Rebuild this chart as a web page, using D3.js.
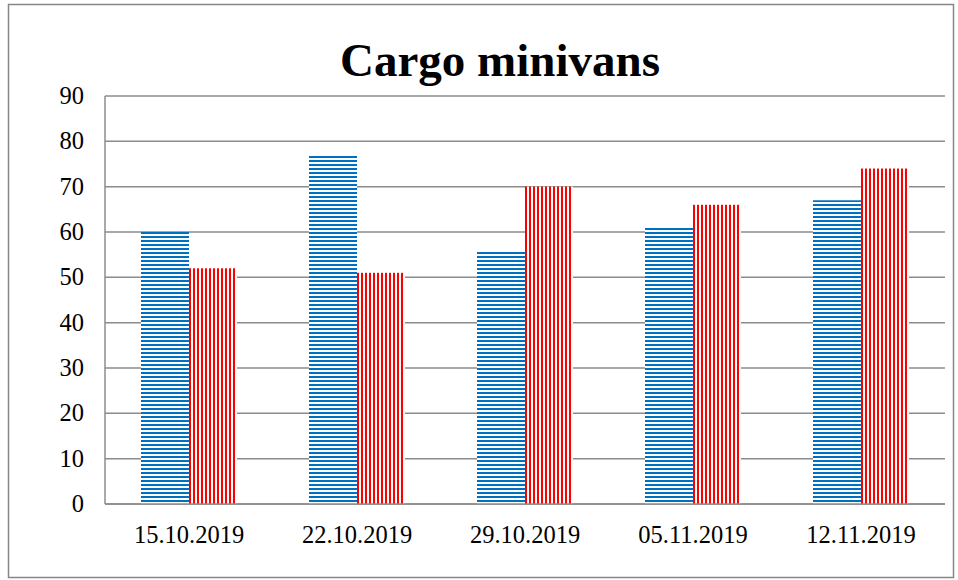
<!DOCTYPE html>
<html>
<head>
<meta charset="utf-8">
<script src="https://cdn.jsdelivr.net/npm/d3@7"></script>
<style>
  body { margin: 0; background: #fff; }
  text { font-family: "Liberation Serif", "Times New Roman", serif; }
</style>
</head>
<body>
<svg id="chart" width="958" height="580"></svg>
<script>
const dates = ["15.10.2019", "22.10.2019", "29.10.2019", "05.11.2019", "12.11.2019"];
const seriesA = [60, 77, 56, 61, 67];
const seriesB = [52, 51, 70, 66, 74];
const yTicks = [0, 10, 20, 30, 40, 50, 60, 70, 80, 90];

const svg = d3.select("#chart");
const plotL = 105, plotR = 945, plotT = 96, plotB = 504;

// patterns for the bars
const defs = svg.append("defs");
const pa = defs.append("pattern").attr("id", "hstripe")
  .attr("patternUnits", "userSpaceOnUse").attr("width", 4).attr("height", 4);
pa.append("rect").attr("width", 4).attr("height", 4).attr("fill", "#fff");
pa.append("rect").attr("width", 4).attr("height", 2).attr("fill", "#0070c0");
const pb = defs.append("pattern").attr("id", "vstripe")
  .attr("patternUnits", "userSpaceOnUse").attr("width", 4).attr("height", 4);
pb.append("rect").attr("width", 4).attr("height", 4).attr("fill", "#fff");
pb.append("rect").attr("width", 2).attr("height", 4).attr("fill", "#ff0000");

// outer frame
svg.append("rect").attr("x", 8.5).attr("y", 4.5).attr("width", 945).attr("height", 573)
  .attr("fill", "#fff").attr("stroke", "#868686").attr("stroke-width", 1.5);

const x = d3.scaleBand().domain(dates).range([plotL, plotR]);
const x1 = d3.scaleBand().domain(["a", "b"]).range([0, x.bandwidth()]).paddingOuter(0.75);
const y = d3.scaleLinear().domain([0, 90]).range([plotB, plotT]);

// gridlines
svg.append("g").selectAll("line").data(yTicks).enter().append("line")
  .attr("x1", plotL).attr("x2", plotR)
  .attr("y1", d => y(d)).attr("y2", d => y(d))
  .attr("stroke", "#8c8c8c").attr("stroke-width", 1.5);

// y labels
svg.append("g").selectAll("text").data(yTicks).enter().append("text")
  .attr("x", 84).attr("y", d => y(d) + 8)
  .attr("text-anchor", "end").attr("font-size", 24.5).attr("fill", "#000")
  .text(d => d);

// bars
const groups = svg.append("g").selectAll("g").data(dates).enter().append("g")
  .attr("transform", d => `translate(${x(d)},0)`);
groups.append("rect")
  .attr("x", x1("a")).attr("width", x1.bandwidth())
  .attr("y", (d, i) => y(seriesA[i])).attr("height", (d, i) => plotB - y(seriesA[i]))
  .attr("fill", "url(#hstripe)");
groups.append("rect")
  .attr("x", x1("b")).attr("width", x1.bandwidth())
  .attr("y", (d, i) => y(seriesB[i])).attr("height", (d, i) => plotB - y(seriesB[i]))
  .attr("fill", "url(#vstripe)");

// axis lines
svg.append("line").attr("x1", plotL).attr("x2", plotL).attr("y1", plotT).attr("y2", plotB)
  .attr("stroke", "#8c8c8c").attr("stroke-width", 1.5);
svg.append("line").attr("x1", plotL).attr("x2", plotR).attr("y1", plotB).attr("y2", plotB)
  .attr("stroke", "#8c8c8c").attr("stroke-width", 1.5);

// x labels
svg.append("g").selectAll("text").data(dates).enter().append("text")
  .attr("x", d => x(d) + x.bandwidth() / 2).attr("y", 543)
  .attr("text-anchor", "middle").attr("font-size", 24.5).attr("fill", "#000")
  .text(d => d);

// title
svg.append("text").attr("x", 500).attr("y", 76)
  .attr("text-anchor", "middle").attr("font-size", 47).attr("font-weight", "bold")
  .text("Cargo minivans");
</script>
</body>
</html>
